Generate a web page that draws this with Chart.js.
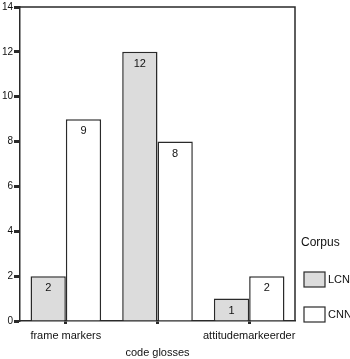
<!DOCTYPE html>
<html>
<head>
<meta charset="utf-8">
<script src="https://cdn.jsdelivr.net/npm/chart.js@4/dist/chart.umd.min.js"></script>
<style>
  html, body { margin: 0; padding: 0; background: #fff; }
  #wrap { width: 350px; height: 359px; }
</style>
</head>
<body>
<div id="wrap"><canvas id="chart" width="350" height="359"></canvas></div>
<script>
// categories and counts per corpus
const categories = ['frame markers', ['', 'code glosses'], 'attitudemarkeerder'];
const lcnValues = [2, 12, 1];
const cnnValues = [9, 8, 2];
const yTicks = [0, 2, 4, 6, 8, 10, 12, 14];
const seriesNames = ['LCN', 'CNN'];

const ink = '#2a2a2a';
const grayFill = '#dcdcdc';
const font = 'Liberation Sans, Arial, sans-serif';

// frame around the plot area
const framePlugin = {
  id: 'frame',
  afterDatasetsDraw(chart) {
    const { ctx, chartArea: a } = chart;
    ctx.save();
    ctx.strokeStyle = ink;
    ctx.lineWidth = 1.5;
    ctx.beginPath();
    ctx.moveTo(a.left, a.top);
    ctx.lineTo(a.right, a.top);
    ctx.lineTo(a.right, a.bottom);
    ctx.stroke();
    ctx.restore();
  }
};

// value printed inside each bar, just under its top
const valuePlugin = {
  id: 'values',
  afterDatasetsDraw(chart) {
    const { ctx } = chart;
    ctx.save();
    ctx.fillStyle = '#111';
    ctx.font = '11px ' + font;
    ctx.textAlign = 'center';
    ctx.textBaseline = 'middle';
    chart.data.datasets.forEach((ds, i) => {
      chart.getDatasetMeta(i).data.forEach((bar, j) => {
        ctx.fillText(String(ds.data[j]), bar.x, bar.y + 12);
      });
    });
    ctx.restore();
  }
};

// legend block on the right
const legendPlugin = {
  id: 'corpusLegend',
  afterDraw(chart) {
    const { ctx } = chart;
    ctx.save();
    ctx.fillStyle = '#111';
    ctx.font = '12px ' + font;
    ctx.textBaseline = 'middle';
    ctx.fillText('Corpus', 301, 243);
    chart.data.datasets.forEach((ds, i) => {
      const y = 272 + i * 35;
      ctx.fillStyle = ds.backgroundColor;
      ctx.fillRect(304, y, 21, 15);
      ctx.strokeStyle = ink;
      ctx.lineWidth = 1.2;
      ctx.strokeRect(304, y, 21, 15);
      ctx.fillStyle = '#111';
      ctx.font = '11px ' + font;
      ctx.fillText(ds.label, 328, y + 8);
    });
    ctx.restore();
  }
};

new Chart(document.getElementById('chart'), {
  type: 'bar',
  data: {
    labels: categories,
    datasets: [
      { label: seriesNames[0], data: lcnValues, backgroundColor: grayFill, borderColor: ink, borderWidth: 1.5 },
      { label: seriesNames[1], data: cnnValues, backgroundColor: '#ffffff', borderColor: ink, borderWidth: 1.5 }
    ]
  },
  options: {
    responsive: false,
    animation: false,
    layout: { padding: { top: 4, right: 55, left: 0, bottom: 0 } },
    plugins: { legend: { display: false }, tooltip: { enabled: false } },
    datasets: { bar: { categoryPercentage: 0.77, barPercentage: 1 } },
    scales: {
      x: {
        grid: { offset: false, drawOnChartArea: false, tickLength: 3, tickWidth: 3, color: ink },
        border: { color: ink, width: 1.5 },
        ticks: {
          color: '#111', font: { family: font, size: 11, lineHeight: 1.6 }, padding: 3,
          maxRotation: 0, autoSkip: false
        },
        afterFit(scale) { scale.height = 38; }
      },
      y: {
        min: 0, max: 14,
        afterBuildTicks(scale) { scale.ticks = yTicks.map(v => ({ value: v })); },
        grid: { drawOnChartArea: false, tickLength: 6, tickWidth: 3, color: ink },
        border: { color: ink, width: 1.5 },
        ticks: { color: '#111', font: { family: font, size: 10 }, padding: 1 },
        afterFit(scale) { scale.width = 20; }
      }
    }
  },
  plugins: [framePlugin, valuePlugin, legendPlugin]
});
</script>
</body>
</html>
